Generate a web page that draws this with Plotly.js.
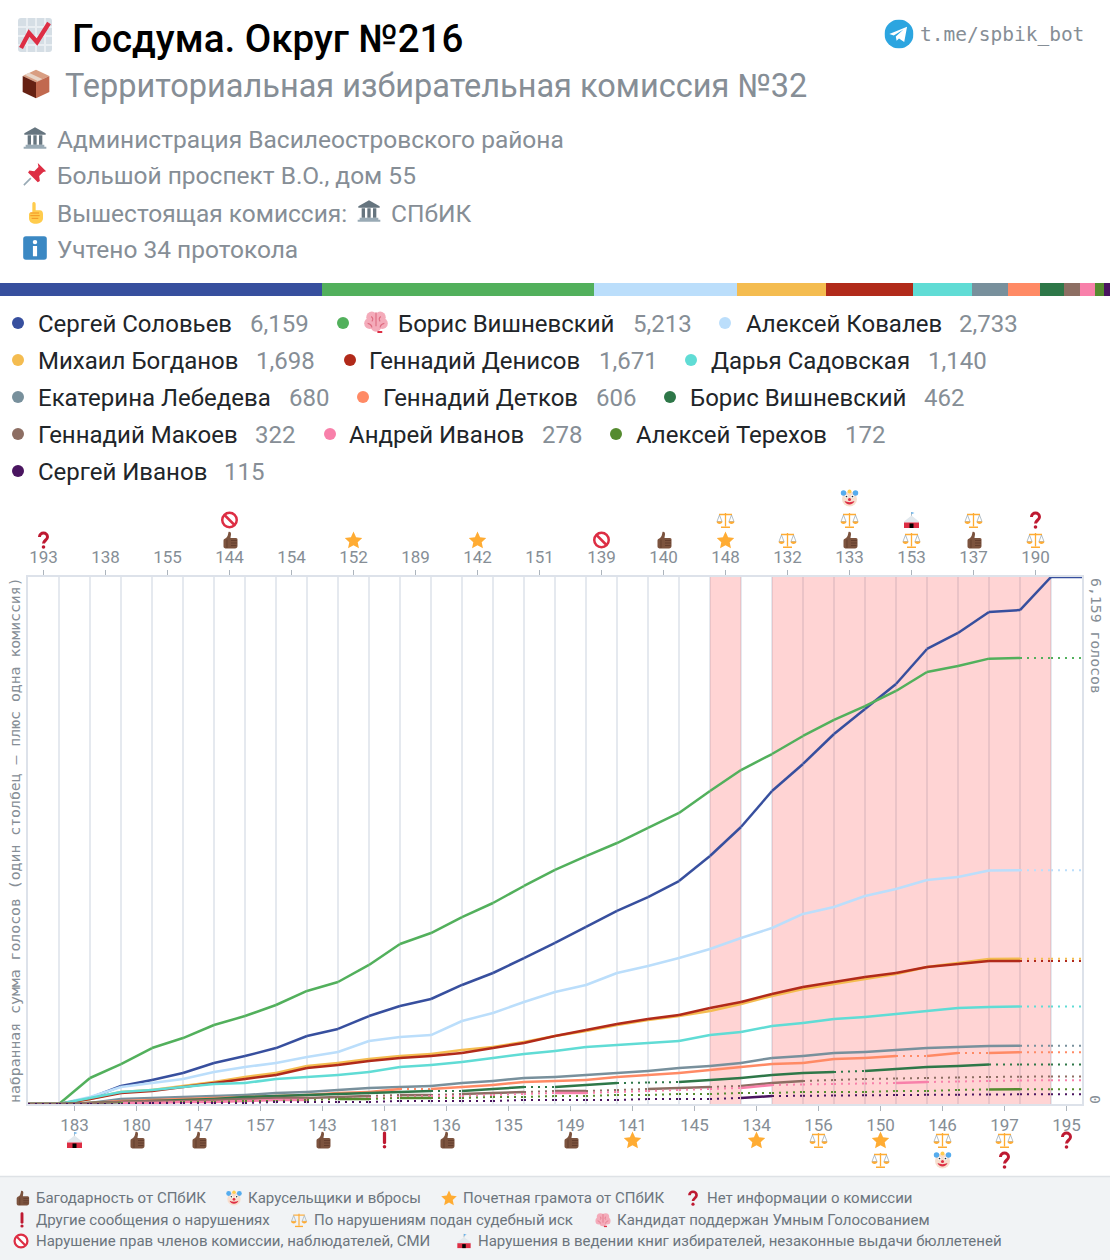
<!DOCTYPE html>
<html><head><meta charset="utf-8">
<script src="https://cdn.plot.ly/plotly-3.0.1.min.js"></script>
<style>html,body{margin:0;padding:0;background:#fff}#c{width:1110px;height:1260px}</style>
</head><body><div id="c"></div>
<script>
// ---------- data ----------
const candidates = ["Сергей Соловьев","Борис Вишневский","Алексей Ковалев","Михаил Богданов","Геннадий Денисов","Дарья Садовская","Екатерина Лебедева","Геннадий Детков","Борис Вишневский","Геннадий Макоев","Андрей Иванов","Алексей Терехов","Сергей Иванов"];
const totals = [6159,5213,2733,1698,1671,1140,680,606,462,322,278,172,115];
const colors = ["#374f9e","#52b05c","#bbdefb","#f4bc50","#b12a1a","#60dcd5","#78909c","#ff8a65","#2e7748","#8d6e63","#f880aa","#558b2f","#4a1560"];
const columns = [193,183,138,180,155,147,144,157,154,143,152,181,189,136,142,135,151,149,139,141,140,145,148,134,132,156,133,150,153,146,137,197,190,195];
const topLabels = [193,138,155,144,154,152,189,142,151,139,140,148,132,133,153,137,190];
const bottomLabels = [183,180,147,157,143,181,136,135,149,141,145,134,156,150,146,197,195];

const s0  = [0,0,70,210,280,362,479,561,654,795,877,1028,1145,1227,1391,1531,1706,1882,2069,2256,2419,2606,2898,3237,3658,3974,4324,4616,4909,5318,5505,5750,5773,6159,6159];
const s1  = [0,0,304,467,654,771,923,1028,1157,1321,1426,1625,1870,1998,2185,2349,2548,2735,2898,3050,3226,3401,3658,3903,4090,4301,4488,4651,4827,5049,5119,5205,5213,5213,5213];
const s2  = [0,0,82,199,245,292,374,432,479,549,608,736,783,806,970,1064,1192,1309,1391,1531,1613,1706,1811,1940,2057,2221,2302,2431,2513,2618,2653,2730,2733,2733,2733];
const s3  = [0,0,58,140,164,210,257,316,362,444,479,526,561,584,631,666,725,795,853,923,982,1028,1087,1169,1262,1344,1402,1461,1519,1601,1648,1695,1698,1698,1698];
const s4  = [0,0,58,129,152,199,245,292,339,421,456,503,538,561,596,654,713,795,865,935,993,1040,1122,1192,1286,1367,1426,1484,1531,1601,1636,1671,1671,1671,1671];
const s5  = [0,0,70,140,164,199,234,245,292,316,339,374,432,456,491,538,584,619,666,690,713,736,806,841,912,947,993,1017,1052,1087,1122,1134,1140,1140,1140];
const s6  = [0,0,12,58,70,82,93,105,129,140,164,187,199,210,245,269,304,316,339,362,386,421,444,479,538,561,596,608,631,654,666,678,680,680,680];
const s7  = [0,0,12,35,47,58,70,82,93,105,129,140,175,175,199,222,257,269,280,316,339,362,397,432,467,479,526,538,561,561,596,596,606,606,606];
const s8  = [0,0,12,23,35,47,58,82,93,105,117,129,140,152,152,175,199,199,222,245,251,257,280,304,339,362,374,386,409,432,444,462,462,462,462];
const s9  = [0,0,12,23,35,35,47,58,70,70,82,93,105,105,117,129,140,152,152,164,175,187,199,210,245,269,280,292,298,304,310,316,319,322,322];
const s10 = [0,0,0,12,12,23,23,35,47,47,58,70,82,93,93,105,117,129,129,140,152,164,175,187,222,228,234,240,245,257,263,269,275,278,278];
const s11 = [0,0,0,12,12,23,23,35,35,47,58,58,70,70,70,82,82,93,93,105,105,117,117,129,129,140,140,140,152,152,164,170,172,172,172];
const s12 = [0,0,0,0,12,12,12,12,23,23,23,23,35,35,35,35,47,47,47,47,58,58,58,70,93,96,99,102,105,107,109,111,113,115,115];
const seriesValues = [s0,s1,s2,s3,s4,s5,s6,s7,s8,s9,s10,s11,s12];

// columns in which a candidate has no protocol data (drawn dotted)
const gaps = [
 [],
 [32,33],[32,33],[32,33],[32,33],[32,33],[32,33],
 [12,28,30,32,33],
 [13,16,19,20,26,31,32,33],
 [11,13,16,18,19,22,25,26,27,28,29,30,31,32,33],
 [0,1,2,9,10,11,12,13,14,15,16,18,19,20,21,22,24,25,26,27,29,30,31,32,33],
 [0,1,2,3,4,5,6,7,8,9,11,13,14,15,16,17,18,19,20,21,22,23,24,25,26,27,28,29,30,32,33],
 [0,1,2,3,4,5,6,7,8,9,10,11,12,13,14,15,16,17,18,19,20,21,22,24,25,26,27,28,29,30,31,32,33]
];

// icons attached to each protocol column, closest to the axis first
const marks = {193:["q"],144:["up","no"],152:["star"],142:["star"],139:["no"],140:["up"],148:["star","law"],132:["law"],133:["up","law","clown"],153:["law","tent"],137:["up","law"],190:["law","q"],
 183:["tent"],180:["up"],147:["up"],143:["up"],181:["ex"],136:["up"],149:["up"],141:["star"],134:["star"],156:["law"],150:["star","law"],146:["law","clown"],197:["law","q"],195:["q"]};

const footerRows = [
 [["up","Багодарность от СПбИК"],["clown","Карусельщики и вбросы"],["star","Почетная грамота от СПбИК"],["q","Нет информации о комиссии"]],
 [["ex","Другие сообщения о нарушениях"],["law","По нарушениям подан судебный иск"],["brain","Кандидат поддержан Умным Голосованием"]],
 [["no","Нарушение прав членов комиссии, наблюдателей, СМИ"],["tent","Нарушения в ведении книг избирателей, незаконные выдачи бюллетеней"]]
];

// ---------- icons ----------
const O="#FFAC33",R="#DD2E44";
const icons = {
 up:`<path fill="#7C533E" d="M16 2c3-1 5 1 5 4 0 3-1 5-1 8h11c2 0 3 2 3 3v13c0 3-2 5-5 5H12c-3 0-6-1-6-4V19c0-3 3-4 5-5 3-2 4-6 5-12z"/><path stroke="#5a3528" stroke-width="1.4" fill="none" d="M21 19h12M21 24h12M21 29h11M13 17v17"/>`,
 star:`<path fill="${O}" d="M18 1l5.2 11.4 12.3 1.5-9.1 8.4 2.5 12.2L18 28.4 7.1 34.5l2.5-12.2L.5 13.9l12.3-1.5z"/>`,
 q:`<path d="M10 12c0-5 4-8 8-8s8 3 8 8c0 6-8 7-8 13" fill="none" stroke="#BE1931" stroke-width="6"/><circle cx="18" cy="32" r="3.6" fill="#BE1931"/>`,
 ex:`<path d="M18 4v19" stroke="#BE1931" stroke-width="6.5" stroke-linecap="round"/><circle cx="18" cy="31.5" r="3.6" fill="#BE1931"/>`,
 law:`<path d="M18 4v27" stroke="${O}" stroke-width="2.6"/><path d="M5 7h26" stroke="${O}" stroke-width="2.6"/><path d="M9 31h18v3H9z" fill="${O}"/><path d="M6 8L1 21h10zM30 8l-5 13h10z" fill="none" stroke="#99AAB5" stroke-width="1.5"/><path d="M0 21h12c0 3-3 5-6 5s-6-2-6-5zM24 21h12c0 3-3 5-6 5s-6-2-6-5z" fill="${O}"/>`,
 no:`<circle cx="18" cy="18" r="14.5" fill="#fff" stroke="${R}" stroke-width="5"/><path d="M8 8l20 20" stroke="${R}" stroke-width="5"/>`,
 clown:`<circle cx="18" cy="20" r="15" fill="#F7DECE"/><circle cx="6" cy="8" r="5.5" fill="#55ACEE"/><circle cx="30" cy="8" r="5.5" fill="#55ACEE"/><circle cx="18" cy="5" r="4" fill="#FFCC4D"/><circle cx="12" cy="15" r="3.4" fill="#fff"/><circle cx="24" cy="15" r="3.4" fill="#fff"/><circle cx="12" cy="15" r="1.7" fill="#292F33"/><circle cx="24" cy="15" r="1.7" fill="#292F33"/><circle cx="18" cy="21" r="3" fill="${R}"/><path d="M8 24c3 9 17 9 20 0-6 3-14 3-20 0z" fill="${R}"/>`,
 tent:`<path d="M18 2v8" stroke="#99AAB5" stroke-width="1.6"/><path d="M18 2l6 2-6 2z" fill="#55ACEE"/><path d="M18 9L3 21v2h30v-2z" fill="#E1E8ED"/><path d="M3 23h30v11H3z" fill="${R}"/><path d="M14 25h8v9h-8z" fill="#000"/>`,
 brain:`<g fill="#F4ABBA"><circle cx="12" cy="11" r="8"/><circle cx="24" cy="11" r="8"/><circle cx="9" cy="20" r="8"/><circle cx="27" cy="20" r="8"/><circle cx="18" cy="24" r="8"/></g><path d="M18 4v20M11 10c3 2 3 5 1 7M25 10c-3 2-3 5-1 7M6 20c4 1 6 3 6 6M30 20c-4 1-6 3-6 6" fill="none" stroke="#DD6C80" stroke-width="1.6"/><path d="M20 31h7v3h-7z" fill="${R}"/>`,
 chart:`<rect x="1" y="1" width="34" height="34" rx="3" fill="#D5DEE5"/><path d="M1 10h34M1 19h34M1 28h34M10 1v34M19 1v34M28 1v34" stroke="#E9EEF2" stroke-width="2"/><path d="M4 31l8-15 8 9L32 6" fill="none" stroke="${R}" stroke-width="4.4"/>`,
 box:`<path fill="#D99E82" d="M18 2l15 7-15 7-15-7z"/><path fill="#662113" d="M3 9l15 7v18L3 27z"/><path fill="#C1694F" d="M33 9L18 16v18l15-7z"/><path fill="#E8D5C8" d="M10 5.3l15 7-5 2.4-15-7z"/>`,
 bank:`<path fill="#66757F" d="M18 2l16 9v2H2v-2z"/><path fill="#99AAB5" d="M4 28h28v3H4zM1 31h34v3H1z"/><path fill="#66757F" d="M7 14h5v14H7zM15.5 14h5v14h-5zM24 14h5v14h-5z"/>`,
 pin:`<path d="M12 24L2 34" stroke="#99AAB5" stroke-width="2.4"/><path fill="${R}" d="M22 2l12 12-4 1-6 6 1 7-3 2-14-14 2-3 7 1 6-6z"/>`,
 point:`<path fill="#FFCC4D" d="M15 2c2-1 4 0 4 3v9h6c4 0 5 3 5 6v6c0 5-5 8-9 8h-4c-5 0-8-4-8-8v-6c0-2 2-3 3-3h2V5c0-1 0-2 1-3z"/><path d="M11 18h13M11 22h14M13 26h10" stroke="#F19020" stroke-width="1.4" fill="none"/>`,
 info:`<rect x="1" y="1" width="34" height="34" rx="4" fill="#3B88C3"/><circle cx="18" cy="9.5" r="3.2" fill="#fff"/><path fill="#fff" d="M15 15h6v15h-6z"/>`,
 tg:`<circle cx="18" cy="18" r="18" fill="#2CA5E0"/><path fill="#fff" d="M6 18l22-9-3.500 19-6.500-4.500-3 3-1-5.500 9.500-8.500-12 7.500z"/>`
};
const uri = k => "data:image/svg+xml;charset=utf-8," + encodeURIComponent(`<svg xmlns="http://www.w3.org/2000/svg" viewBox="0 0 36 36" width="72" height="72">${icons[k]}</svg>`);

// ---------- layout helpers ----------
const W=1110,H=1260, PL=28,PR=1082,PT=577,PB=1104;
const px=x=>x/W, py=y=>1-y/H;
const GRAY="#868e96", F="Roboto, sans-serif", MONO="'DejaVu Sans Mono', monospace";
const ann=[], images=[], shapes=[];
const text=(x,y,t,size,color,o={})=>ann.push(Object.assign({xref:"paper",yref:"paper",x:px(x),y:py(y),text:t,showarrow:false,xanchor:"left",yanchor:"middle",align:"left",borderpad:0,font:{family:F,size,color,weight:o.weight||400}},o.extra||{}));
const icon=(k,x,y,s)=>images.push({source:uri(k),xref:"paper",yref:"paper",x:px(x),y:py(y),sizex:s/W,sizey:s/H,xanchor:"center",yanchor:"middle",sizing:"contain",layer:"above"});

// header
icon("chart",35,35,36); text(71,38,"Госдума. Округ №216",38.5,"#000",{weight:500});
icon("box",36,84,32);  text(64,86,"Территориальная избирательная комиссия №32",32.500,GRAY);
icon("bank",35,138,24); text(56,139,"Администрация Василеостровского района",24.500,GRAY);
icon("pin",35,174,25);  text(56,176,"Большой проспект В.О., дом 55",24.500,GRAY);
icon("point",35,213,24);text(56,213,"Вышестоящая комиссия:",24.500,GRAY);
icon("bank",369,211,24);text(390,213,"СПбИК",24.500,GRAY);
icon("info",35,248,25); text(56,250,"Учтено 34 протокола",24.500,GRAY);
icon("tg",899,34,29);
text(919,34,"t.me/spbik_bot",20,GRAY,{extra:{font:{family:MONO,size:19.500,color:GRAY}}});

// legend
const legendRowY=[324,361,398,435,472];
const legendCols=[[18,37,249],[343,397,632],[725,745,958],[18,37,255],[350,368,598],[691,710,927],[18,37,288],[363,382,595],[670,689,923],[18,37,254],[330,348,541],[616,635,844],[18,37,223]];
candidates.forEach((n,i)=>{
  const y=legendRowY[Math.floor(i/3)], c=legendCols[i];
  shapes.push({type:"circle",xref:"paper",yref:"paper",x0:px(c[0]-6),x1:px(c[0]+6),y0:py(y-7),y1:py(y+5),fillcolor:colors[i],line:{width:0},layer:"above"});
  text(c[1],y,n,24,"#212529");
  text(c[2],y,totals[i].toLocaleString("en-US"),24,GRAY);
});
icon("brain",376,322,25);

// footer
shapes.push({type:"rect",xref:"paper",yref:"paper",x0:0,x1:1,y0:0,y1:py(1177),fillcolor:"#f1f3f5",line:{width:0},layer:"below"});
shapes.push({type:"line",xref:"paper",yref:"paper",x0:0,x1:1,y0:py(1176.500),y1:py(1176.500),line:{color:"#dee2e6",width:1.5},layer:"below"});
const footerY=[1198,1220,1241];
const footerX=[[22,234,449,693],[22,299,603],[21,464]];
const footerTx=[[35,247,462,706],[35,313,616],[35,477]];
footerRows.forEach((row,r)=>row.forEach((it,j)=>{
  icon(it[0],footerX[r][j],footerY[r],16);
  text(footerTx[r][j],footerY[r],it[1],15,"#6c757d");
}));

// chart axis words
text(14,840,"набранная сумма голосов (один столбец – плюс одна комиссия)",15,GRAY,{extra:{textangle:-90,xanchor:"center",font:{family:MONO,size:14.800,color:GRAY}}});
text(1096,577,"6,159 голосов",15,GRAY,{extra:{textangle:90,xanchor:"center",yanchor:"top",font:{family:MONO,size:14.800,color:GRAY}}});
text(1096,1099,"0",15,GRAY,{extra:{textangle:90,xanchor:"center",font:{family:MONO,size:14.800,color:GRAY}}});

// grid + flagged columns
const nCols=columns.length;
for(let i=1;i<nCols;i++) shapes.push({type:"line",xref:"x",yref:"y",x0:i,x1:i,y0:0,y1:6159,line:{color:"#dde2ea",width:1.5},layer:"below"});
columns.forEach((c,i)=>{
  if((marks[c]||[]).includes("law")) shapes.push({type:"rect",xref:"x",yref:"y",x0:i,x1:i+1,y0:0,y1:6159,fillcolor:"rgba(255,60,60,0.22)",line:{width:0},layer:"below"});
});

// column icons
const stackTop=[540,520,498], stackBottom=[1140,1160];
columns.forEach((c,i)=>(marks[c]||[]).forEach((k,j)=>{
  const isTop=topLabels.includes(c);
  images.push({source:uri(k),xref:"x",yref:"paper",x:i+0.5,y:py(isTop?stackTop[j]:stackBottom[j]),sizex:0.6,sizey:18/H,xanchor:"center",yanchor:"middle",sizing:"contain",layer:"above"});
}));

// ---------- traces ----------
const traces=[];
// proportion bar
candidates.forEach((n,i)=>traces.push({type:"bar",orientation:"h",x:[totals[i]],y:[0],xaxis:"x3",yaxis:"y3",marker:{color:colors[i],line:{width:0}},width:1,hoverinfo:"skip",showlegend:false}));
// cumulative lines
seriesValues.forEach((vals,si)=>{
  const sx=[],sy=[],dx=[],dy=[];
  for(let k=0;k<vals.length-1;k++){
    const missing=gaps[si].includes(k);
    (missing?dx:sx).push(k,k+1,null);
    (missing?dy:sy).push(vals[k],vals[k+1],null);
  }
  if(dx.length) traces.push({type:"scatter",mode:"lines",x:dx,y:dy,line:{color:colors[si],width:2,dash:"2px,5px"},hoverinfo:"skip",showlegend:false,cliponaxis:false});
  if(sx.length) traces.push({type:"scatter",mode:"lines",x:sx,y:sy,line:{color:colors[si],width:2.5},hoverinfo:"skip",showlegend:false,cliponaxis:false});
});
// carrier for the top axis
traces.push({type:"scatter",mode:"markers",x:[0.5],y:[0],xaxis:"x2",yaxis:"y",marker:{opacity:0,size:1},hoverinfo:"skip",showlegend:false});

const tickCfg={ticks:"outside",ticklen:5,tickwidth:1,tickcolor:"#adb5bd",tickfont:{family:F,size:17,color:GRAY},tickmode:"array",showgrid:false,zeroline:false,range:[0,nCols],fixedrange:true};
const centres=labels=>labels.map(l=>columns.indexOf(l)+0.5);
const layout={
  width:W,height:H,margin:{l:0,r:0,t:0,b:0},paper_bgcolor:"#fff",plot_bgcolor:"rgba(0,0,0,0)",showlegend:false,barmode:"stack",bargap:0,
  xaxis:Object.assign({},tickCfg,{domain:[px(PL),px(PR)],anchor:"y",side:"bottom",tickvals:centres(bottomLabels),ticktext:bottomLabels.map(String),showline:true,linecolor:"#dde2ea",linewidth:2,mirror:false}),
  xaxis2:Object.assign({},tickCfg,{domain:[px(PL),px(PR)],anchor:"y",side:"top",overlaying:"x",tickvals:centres(topLabels),ticktext:topLabels.map(String),showline:true,linecolor:"#dde2ea",linewidth:2}),
  yaxis:{domain:[py(PB),py(PT)],range:[0,6159],showticklabels:false,ticks:"",showgrid:false,zeroline:false,showline:true,linecolor:"#dde2ea",linewidth:2,mirror:true,fixedrange:true},
  xaxis3:{domain:[0,1],range:[0,totals.reduce((a,b)=>a+b,0)],visible:false,anchor:"y3",fixedrange:true},
  yaxis3:{domain:[py(296),py(283)],range:[-0.5,0.5],visible:false,anchor:"x3",fixedrange:true},
  annotations:ann,images,shapes,hovermode:false
};
Plotly.newPlot("c",traces,layout,{displayModeBar:false,staticPlot:true});
</script></body></html>
